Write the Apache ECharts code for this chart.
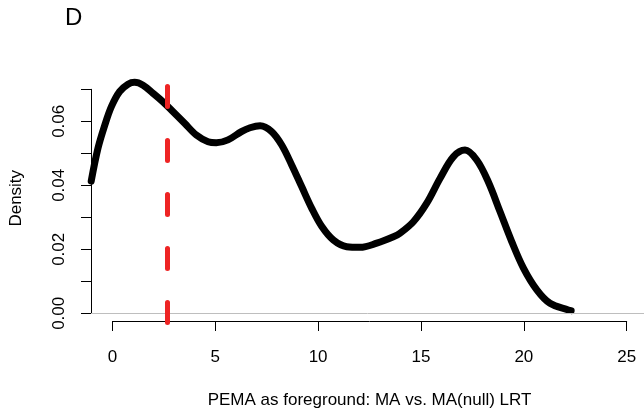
<!DOCTYPE html>
<html>
<head>
<meta charset="utf-8">
<script src="https://cdn.jsdelivr.net/npm/echarts@6/dist/echarts.min.js"></script>
<style>
  html, body { margin: 0; padding: 0; background: #fff; }
  #densplot { width: 644px; height: 411px; }
</style>
</head>
<body>
<div id="densplot"></div>
<script>
// density curve (x = LRT, y = density)
var lrtX = [-1.03, -0.70, -0.37, -0.05, 0.35, 0.76, 1.08, 1.49, 1.97, 2.46, 2.95, 3.51, 4.08,
            4.65, 5.05, 5.62, 6.27, 6.69, 7.18, 7.74, 8.23, 8.72, 9.20, 9.69, 10.18, 10.74,
            11.39, 12.04, 12.85, 13.66, 13.98, 14.63, 15.28, 15.93, 16.57, 17.14, 17.71,
            18.27, 18.84, 19.41, 19.98, 20.63, 21.27, 22.16, 22.30];
var densY = [0.0413, 0.0516, 0.0588, 0.0646, 0.0693, 0.0716, 0.0722, 0.0713, 0.0688, 0.0661,
             0.0630, 0.0594, 0.0557, 0.0536, 0.0533, 0.0542, 0.0568, 0.0580, 0.0586, 0.0568,
             0.0526, 0.0463, 0.0396, 0.0328, 0.0271, 0.0229, 0.0208, 0.0206, 0.0219, 0.0239,
             0.0250, 0.0286, 0.0344, 0.0422, 0.0489, 0.0510, 0.0479, 0.0411, 0.0318, 0.0224,
             0.0141, 0.0073, 0.0031, 0.0010, 0.0008];
var cutoff = 2.65;           // red dashed line
var xTicks = [0, 25, 5];     // min, max, step
var yTicks = [0, 0.07, 0.01];

var font = 'Liberation Sans';
var curve = [];
for (var i = 0; i < lrtX.length; i++) curve.push([lrtX[i], densY[i]]);

var densplot = echarts.init(document.getElementById('densplot'));
var option = {
    backgroundColor: '#fff',
    animation: false,
    title: {
        text: 'D',
        left: 65,
        top: 6,
        padding: 0,
        textStyle: { fontFamily: font, fontSize: 24, fontWeight: 'normal', color: '#000' }
    },
    grid: [
        // plot region
        { left: 91, right: 0, top: 74, bottom: 411 - 322.5, outerBoundsMode: 'none' },
        // y axis (0 .. 0.07)
        { left: 91, width: 10, top: 89.3, bottom: 411 - 313.3, outerBoundsMode: 'none' },
        // x axis (0 .. 25)
        { left: 112.4, right: 644 - 626.7, top: 300, bottom: 411 - 321, outerBoundsMode: 'none' }
    ],
    xAxis: [
        { gridIndex: 0, type: 'value', min: -1.04, max: 25.84, show: false },
        { gridIndex: 1, type: 'value', min: 0, max: 1, show: false },
        {
            gridIndex: 2, type: 'value', position: 'bottom',
            min: xTicks[0], max: xTicks[1], interval: xTicks[2],
            name: 'PEMA as foreground: MA vs. MA(null) LRT',
            nameLocation: 'middle', nameGap: 71,
            nameTextStyle: { fontFamily: font, fontSize: 17, color: '#000' },
            axisLine: { show: true, lineStyle: { color: '#000', width: 1 } },
            axisTick: { show: true, length: 10, lineStyle: { color: '#000', width: 1 } },
            axisLabel: { margin: 28, fontFamily: font, fontSize: 17, color: '#000' },
            splitLine: { show: false }
        }
    ],
    yAxis: [
        {
            gridIndex: 0, type: 'value', min: -0.0029, max: 0.0748,
            name: 'Density', nameLocation: 'middle', nameGap: 66,
            nameTextStyle: { fontFamily: font, fontSize: 17, color: '#000' },
            axisLine: { show: false }, axisTick: { show: false },
            axisLabel: { show: false }, splitLine: { show: false }
        },
        {
            gridIndex: 1, type: 'value', position: 'left',
            min: yTicks[0], max: yTicks[1], interval: yTicks[2],
            axisLine: { show: true, lineStyle: { color: '#000', width: 1 } },
            axisTick: { show: true, length: 10, lineStyle: { color: '#000', width: 1 } },
            axisLabel: {
                rotate: 90, margin: 23, fontFamily: font, fontSize: 17, color: '#000',
                formatter: function (v) {
                    var k = Math.round(v * 100);
                    return k % 2 === 0 ? (k / 100).toFixed(2) : '';
                }
            },
            splitLine: { show: false }
        },
        { gridIndex: 2, type: 'value', min: 0, max: 1, show: false }
    ],
    series: [
        {
            type: 'line',
            xAxisIndex: 0,
            yAxisIndex: 0,
            data: curve,
            smooth: 0.35,
            showSymbol: false,
            symbol: 'none',
            clip: false,
            silent: true,
            z: 3,
            lineStyle: { color: '#000', width: 7, cap: 'round', join: 'round' },
            markLine: {
                silent: true,
                symbol: 'none',
                label: { show: false },
                emphasis: { disabled: true },
                data: [
                    { yAxis: 0, lineStyle: { color: '#bebebe', width: 1, type: 'solid' } },
                    { xAxis: cutoff, lineStyle: { color: '#ee2424', width: 5, type: [20, 34], cap: 'round' } }
                ]
            }
        }
    ]
};
densplot.setOption(option);
</script>
</body>
</html>
